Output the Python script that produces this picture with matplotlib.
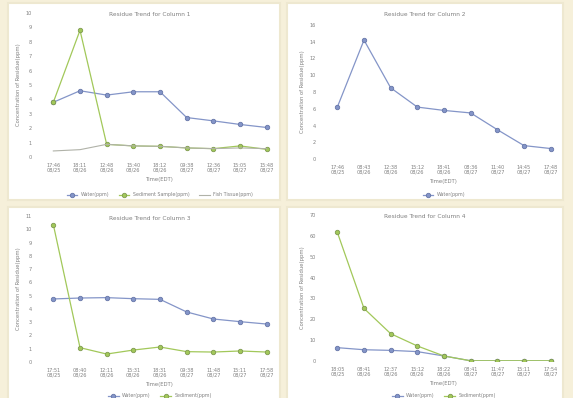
import matplotlib
matplotlib.use("Agg")
import matplotlib.pyplot as plt
from matplotlib.patches import Rectangle

# sampling times for each column
times_c1 = ["17:46\n08/25", "18:11\n08/26", "12:48\n08/26", "15:40\n08/26", "18:12\n08/26",
            "09:38\n08/27", "12:36\n08/27", "15:05\n08/27", "15:48\n08/27"]
times_c2 = ["17:46\n08/25", "08:43\n08/26", "12:38\n08/26", "15:12\n08/26", "18:41\n08/26",
            "08:36\n08/27", "11:40\n08/27", "14:45\n08/27", "17:48\n08/27"]
times_c3 = ["17:51\n08/25", "08:40\n08/26", "12:11\n08/26", "15:31\n08/26", "18:31\n08/26",
            "09:38\n08/27", "11:48\n08/27", "15:11\n08/27", "17:58\n08/27"]
times_c4 = ["18:05\n08/25", "08:41\n08/26", "12:37\n08/26", "15:12\n08/26", "18:22\n08/26",
            "08:41\n08/27", "11:47\n08/27", "15:11\n08/27", "17:54\n08/27"]

# residue concentrations (ppm)
c1_water = [3.8, 4.6, 4.3, 4.53, 4.53, 2.74, 2.51, 2.26, 2.05]
c1_sediment = [3.8, 8.8, 0.88, 0.77, 0.74, 0.63, 0.58, 0.77, 0.53]
c1_tissue = [0.42, 0.51, 0.88, 0.77, 0.74, 0.63, 0.58, 0.63, 0.58]

c2_water = [6.2, 14.2, 8.5, 6.2, 5.8, 5.5, 3.5, 1.6, 1.25]

c3_water = [4.75, 4.82, 4.85, 4.77, 4.72, 3.77, 3.24, 3.04, 2.86]
c3_sediment = [10.35, 1.08, 0.6, 0.9, 1.13, 0.78, 0.75, 0.83, 0.75]

c4_water = [6.4, 5.4, 5.1, 4.5, 2.4, 0.1, 0.1, 0.1, 0.1]
c4_sediment = [61.7, 25.2, 13.1, 7.2, 2.4, 0.1, 0.1, 0.1, 0.1]

BLUE = "#8495c8"
BLUE_EDGE = "#6676a8"
GREEN = "#a2c85a"
GREEN_EDGE = "#7f9a50"
GREY = "#b0b2a8"
TEXT = "#808080"

W, H = 573, 398
fig = plt.figure(figsize=(W / 100, H / 100), dpi=100)
fig.patch.set_facecolor("#f6f0da")


def px_rect(x0, y0, x1, y1):
    # pixel box (top-left origin) -> figure fractions
    return [x0 / W, 1 - y1 / H, (x1 - x0) / W, (y1 - y0) / H]


# white cards behind each chart
for (x0, y0, x1, y1) in [(8, 3, 280, 200), (287, 3, 563, 200),
                         (8, 207, 280, 402), (287, 207, 563, 402)]:
    fig.patches.append(Rectangle((x0 / W, 1 - y1 / H), (x1 - x0) / W, (y1 - y0) / H,
                                 transform=fig.transFigure, facecolor="white",
                                 edgecolor="#eee8d0", linewidth=1.5, zorder=-5))


def panel(box, title, title_xy, times, series, ymax, yticks, legend_y):
    ax = fig.add_axes(px_rect(*box))
    ax.set_facecolor("none")
    x = list(range(len(times)))
    handles = []
    for vals, color, edge, label, marker in series:
        if marker:
            h, = ax.plot(x, vals, color=color, lw=0.9, marker="o", ms=3.2,
                         mfc=color, mec=edge, mew=0.6, label=label)
        else:
            h, = ax.plot(x, vals, color=color, lw=0.8, label=label)
        handles.append(h)
    ax.set_xlim(-0.5, len(times) - 0.5)
    ax.set_ylim(0, ymax)
    ax.set_yticks(yticks)
    ax.set_xticks(x)
    ax.set_xticklabels(times, fontsize=3.6, color=TEXT, linespacing=1.0)
    ax.tick_params(axis="y", labelsize=3.6, labelcolor=TEXT, length=0, pad=6)
    ax.tick_params(axis="x", length=0, pad=4)
    for s in ax.spines.values():
        s.set_visible(False)
    ax.set_xlabel("Time(EDT)", fontsize=3.8, color=TEXT, labelpad=3)
    ax.set_ylabel("Concentration of Residue(ppm)", fontsize=3.8, color=TEXT, labelpad=3)
    fig.text(title_xy[0] / W, 1 - title_xy[1] / H, title, fontsize=4.2, color=TEXT,
             ha="center", va="center")
    fig.legend(handles=handles, loc="center", ncol=len(handles), frameon=False,
               fontsize=3.4, labelcolor=TEXT, handlelength=2.2, columnspacing=2.0,
               bbox_to_anchor=((box[0] + box[2]) / 2 / W, 1 - legend_y / H))
    return ax


panel((40, 13, 280, 157), "Residue Trend for Column 1", (150, 15), times_c1,
      [(c1_water, BLUE, BLUE_EDGE, "Water(ppm)", True),
       (c1_sediment, GREEN, GREEN_EDGE, "Sediment Sample(ppm)", True),
       (c1_tissue, GREY, GREY, "Fish Tissue(ppm)", False)],
      10, range(0, 11), 195)

panel((324, 25, 564, 159), "Residue Trend for Column 2", (425, 15), times_c2,
      [(c2_water, BLUE, BLUE_EDGE, "Water(ppm)", True)],
      16, range(0, 17, 2), 195)

panel((40, 216, 280, 362), "Residue Trend for Column 3", (150, 218), times_c3,
      [(c3_water, BLUE, BLUE_EDGE, "Water(ppm)", True),
       (c3_sediment, GREEN, GREEN_EDGE, "Sediment(ppm)", True)],
      11, range(0, 12), 396)

panel((324, 215, 564, 361), "Residue Trend for Column 4", (425, 217), times_c4,
      [(c4_water, BLUE, BLUE_EDGE, "Water(ppm)", True),
       (c4_sediment, GREEN, GREEN_EDGE, "Sediment(ppm)", True)],
      70, range(0, 71, 10), 396)

fig.savefig("out.png", dpi=100, facecolor=fig.get_facecolor())
